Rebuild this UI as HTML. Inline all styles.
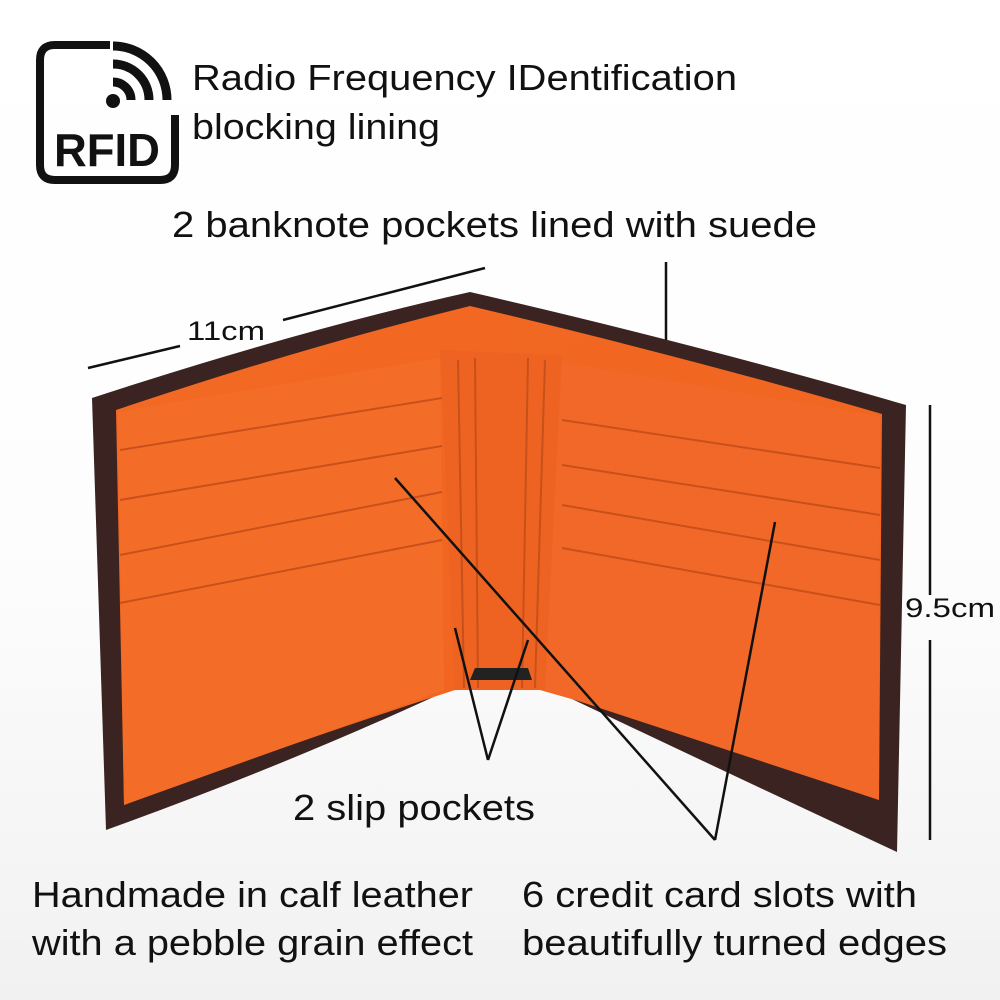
<!DOCTYPE html>
<html><head><meta charset="utf-8"><style>
html,body{margin:0;padding:0;background:#fff;}
svg{display:block;}
text{font-family:"Liberation Sans",sans-serif;fill:#111;}
</style></head><body>
<svg width="1000" height="1000" viewBox="0 0 1000 1000">
<defs>
<linearGradient id="bg" x1="0" y1="0" x2="0" y2="1">
<stop offset="0" stop-color="#ffffff"/><stop offset="0.55" stop-color="#fdfdfd"/><stop offset="1" stop-color="#f1f1f1"/>
</linearGradient>
<linearGradient id="or" x1="0" y1="0" x2="1" y2="1">
<stop offset="0" stop-color="#f26a25"/><stop offset="1" stop-color="#f0621c"/>
</linearGradient>
</defs>
<rect width="1000" height="1000" fill="url(#bg)"/>
<!-- outer dark -->
<path d="M92,398 Q300,330 470,292 Q700,345 906,405 L897,852 Q700,760 532,680 L470,680 Q300,760 106,830 Z" fill="#3a2320"/>
<path d="M116,410 Q300,348 470,306 Q690,358 882,414 L879,800 Q700,735 540,690 L455,690 Q300,740 124,805 Z" fill="url(#or)"/>
<path d="M118,412 L440,358 L444,690 L124,805 Z" fill="#f46d28"/>
<path d="M560,362 L880,416 L879,800 L545,690 Z" fill="#f26828"/>
<path d="M440,350 L562,355 L545,690 L455,690 Z" fill="#ee6321"/>
<g stroke="#c9501a" stroke-width="2" fill="none">
<line x1="458" y1="360" x2="464" y2="688"/><line x1="475" y1="358" x2="478" y2="688"/>
<line x1="528" y1="358" x2="522" y2="688"/><line x1="545" y1="360" x2="535" y2="688"/>
<path d="M120,450 L442,398"/><path d="M120,500 L442,446"/><path d="M120,555 L442,492"/><path d="M120,603 L442,540"/>
<path d="M562,420 L880,468"/><path d="M562,465 L880,515"/><path d="M562,505 L880,560"/><path d="M562,548 L880,605"/>
</g>
<path d="M470,680 L532,680 L528,668 L475,668 Z" fill="#222"/>
<g stroke="#111" stroke-width="2.5">
<line x1="88" y1="368" x2="180" y2="346"/><line x1="283" y1="320" x2="485" y2="268"/>
<line x1="666" y1="262" x2="666" y2="340"/>
<line x1="930" y1="405" x2="930" y2="595"/><line x1="930" y1="640" x2="930" y2="840"/>
<line x1="488" y1="760" x2="455" y2="628"/><line x1="488" y1="760" x2="528" y2="640"/>
<line x1="395" y1="478" x2="715" y2="840"/><line x1="775" y1="522" x2="715" y2="840"/>
</g>
<path d="M110,45 L55,45 Q40,45 40,60 L40,165 Q40,180 55,180 L160,180 Q175,180 175,165 L175,115" fill="none" stroke="#111" stroke-width="8"/>
<g fill="none" stroke="#111" stroke-width="9">
<path d="M113,82 A18,18 0 0 1 131,100"/><path d="M113,64 A36,36 0 0 1 149,100"/><path d="M113,46 A54,54 0 0 1 167,100"/>
</g>
<circle cx="113" cy="101" r="7" fill="#111"/>
<text x="54" y="166" font-size="46" font-weight="bold" textLength="106" lengthAdjust="spacingAndGlyphs">RFID</text>
<text x="192" y="90" font-size="36" textLength="545" lengthAdjust="spacingAndGlyphs">Radio Frequency IDentification</text>
<text x="192" y="139" font-size="36" textLength="248" lengthAdjust="spacingAndGlyphs">blocking lining</text>
<text x="172" y="237" font-size="36" textLength="645" lengthAdjust="spacingAndGlyphs">2 banknote pockets lined with suede</text>
<text x="187" y="340" font-size="27" textLength="78" lengthAdjust="spacingAndGlyphs">11cm</text>
<text x="905" y="617" font-size="27" textLength="90" lengthAdjust="spacingAndGlyphs">9.5cm</text>
<text x="293" y="820" font-size="36" textLength="242" lengthAdjust="spacingAndGlyphs">2 slip pockets</text>
<text x="32" y="907" font-size="36" textLength="441" lengthAdjust="spacingAndGlyphs">Handmade in calf leather</text>
<text x="32" y="955" font-size="36" textLength="441" lengthAdjust="spacingAndGlyphs">with a pebble grain effect</text>
<text x="522" y="907" font-size="36" textLength="395" lengthAdjust="spacingAndGlyphs">6 credit card slots with</text>
<text x="522" y="955" font-size="36" textLength="425" lengthAdjust="spacingAndGlyphs">beautifully turned edges</text>
</svg>
</body></html>
